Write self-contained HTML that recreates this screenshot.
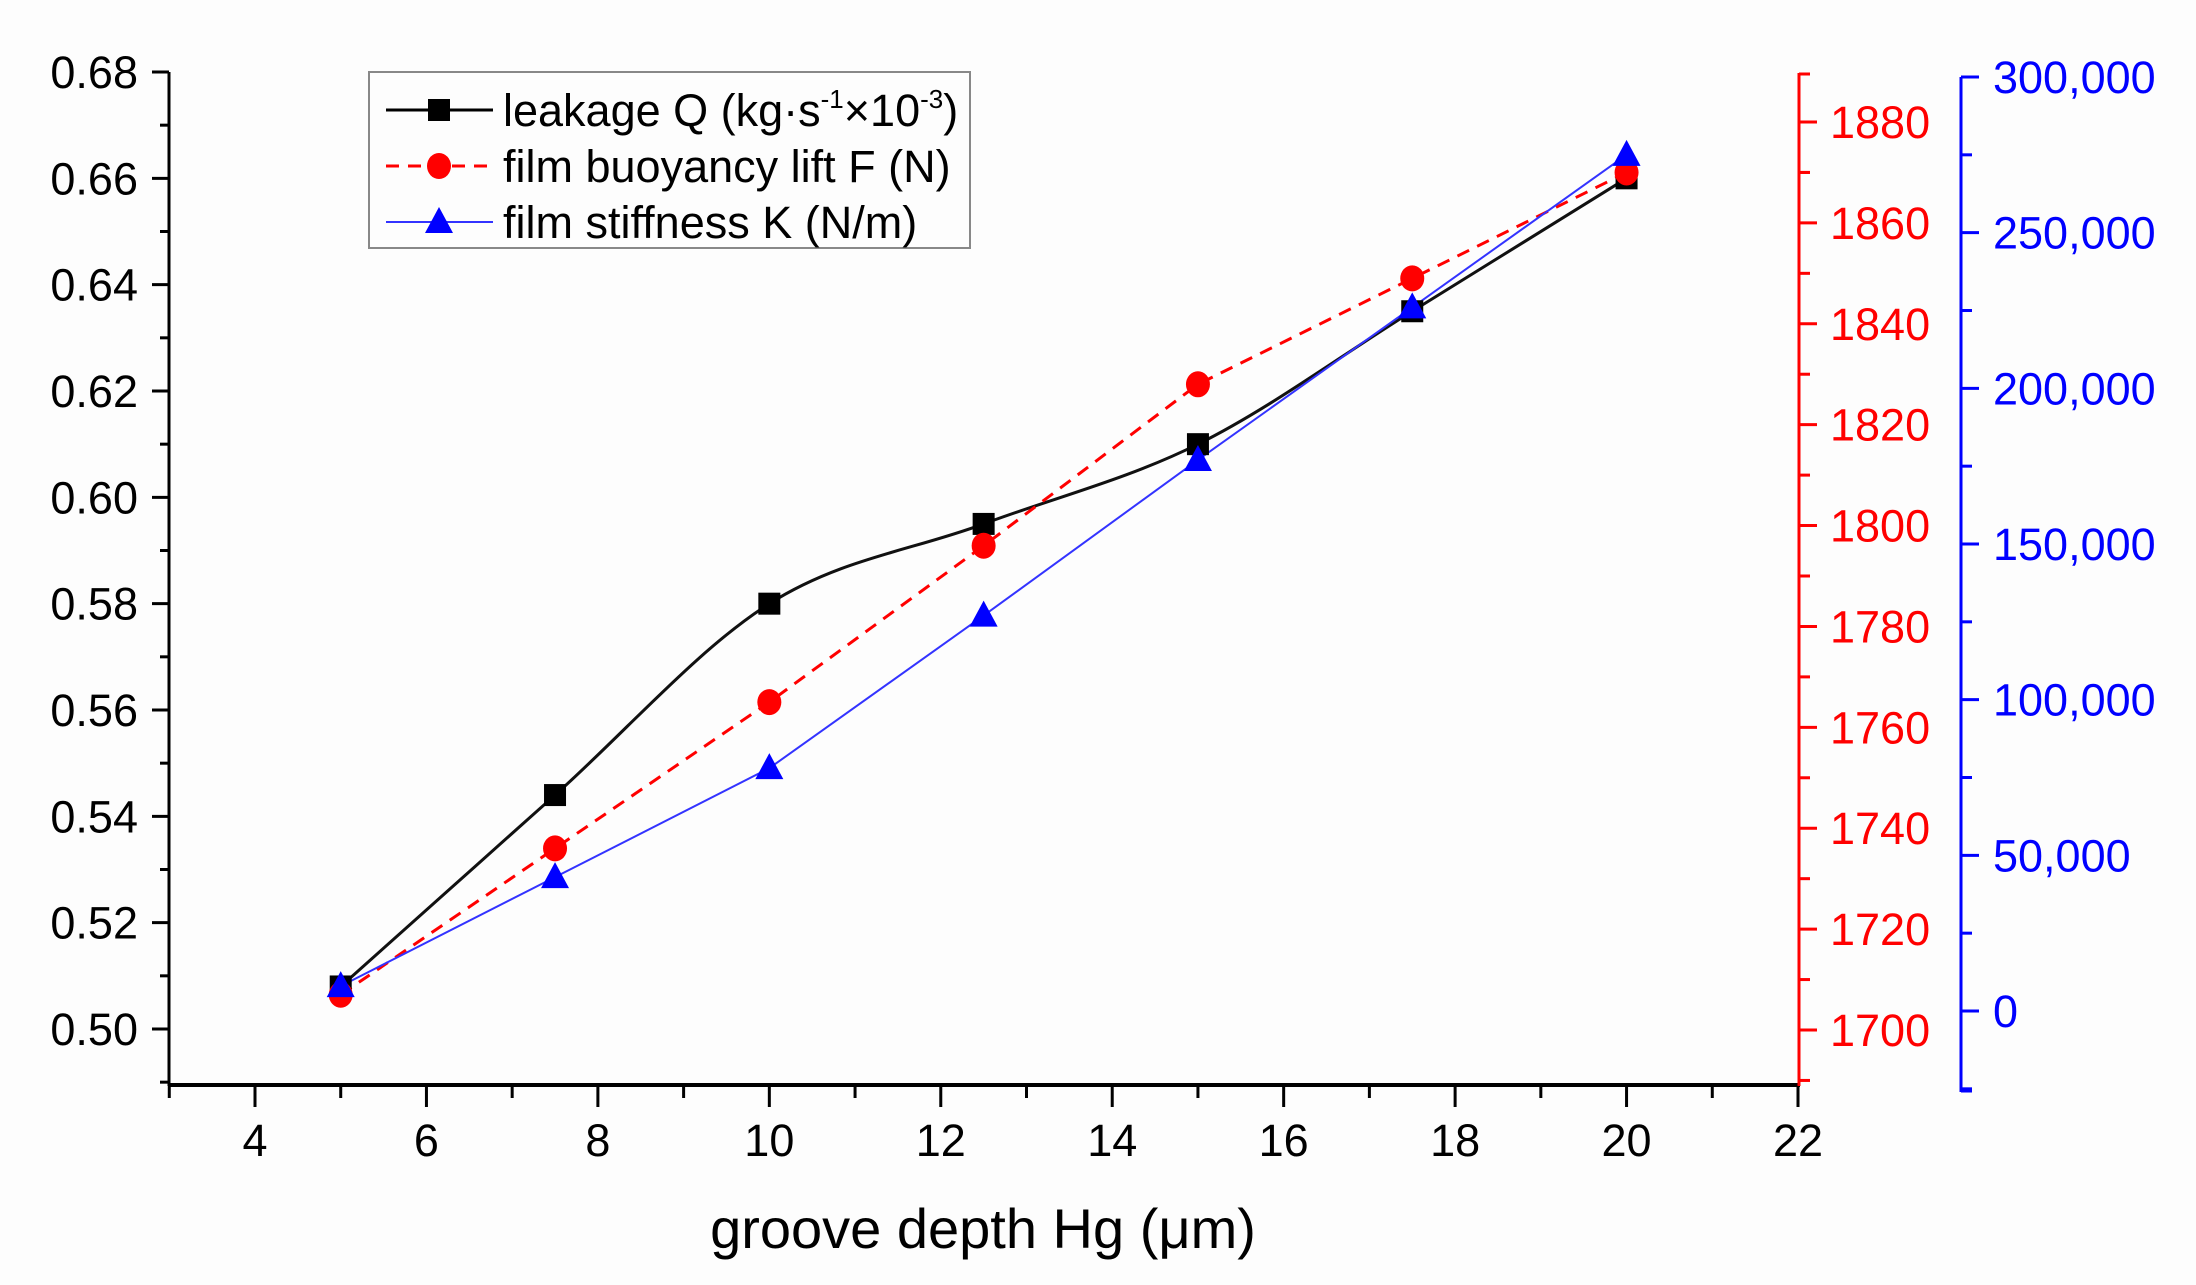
<!DOCTYPE html>
<html><head><meta charset="utf-8"><style>
html,body{margin:0;padding:0;background:#fdfdfd;}
svg{display:block;font-family:"Liberation Sans",Arial,sans-serif;}
</style></head><body>
<svg id="chart" width="2196" height="1285" viewBox="0 0 2196 1285" xmlns="http://www.w3.org/2000/svg">
<rect x="0" y="0" width="2196" height="1285" fill="#fdfdfd"/>
<g id="axes"></g>
<g id="series"></g>
<g id="legend"></g>
</svg>
<script>
const xCats = [5, 7.5, 10, 12.5, 15, 17.5, 20];
const leakageQ = [0.508, 0.544, 0.580, 0.595, 0.610, 0.635, 0.660];
const liftF = [1707, 1736, 1765, 1796, 1828, 1849, 1870];
const stiffK = [8000, 43000, 78000, 127000, 177000, 226000, 275000];
const xTicks = [4, 6, 8, 10, 12, 14, 16, 18, 20, 22];
const qTicks = [0.50, 0.52, 0.54, 0.56, 0.58, 0.60, 0.62, 0.64, 0.66, 0.68];
const fTicks = [1700, 1720, 1740, 1760, 1780, 1800, 1820, 1840, 1860, 1880];
const kTicks = [0, 50000, 100000, 150000, 200000, 250000, 300000];

const NS = "http://www.w3.org/2000/svg";
function el(tag, attrs, parent, text) {
  const e = document.createElementNS(NS, tag);
  for (const k in attrs) e.setAttribute(k, attrs[k]);
  if (text !== undefined) e.textContent = text;
  parent.appendChild(e);
  return e;
}
const X = v => 255 + (v - 4) * (1798 - 255) / 18;
const YQ = v => 1029 - (v - 0.50) * (1029 - 72) / 0.18;
const YF = v => 1030 - (v - 1700) * (1030 - 122) / 180;
const YK = v => 1011 - v * (1011 - 77) / 300000;

const axes = document.getElementById('axes');
const FS = 45;
// left axis
let a = el('line', {x1:169, y1:72, x2:169, y2:1086, stroke:'#000', 'stroke-width':3}, axes);


for (let i = 0; i < qTicks.length; i++) {
  const v = qTicks[i], y = YQ(v);
  el('line', {x1:152, y1:y, x2:169, y2:y, stroke:'#000', 'stroke-width':3}, axes);
  const t = el('text', {x:138, y:y + 16, 'text-anchor':'end', 'font-size':FS, fill:'#000'}, axes, v.toFixed(2));
  
  
  if (i < qTicks.length - 1) {
    const ym = YQ(v + 0.01);
    el('line', {x1:160, y1:ym, x2:169, y2:ym, stroke:'#000', 'stroke-width':3}, axes);
  }
}
el('line', {x1:160, y1:YQ(0.49), x2:169, y2:YQ(0.49), stroke:'#000', 'stroke-width':3}, axes);
// x axis
a = el('line', {x1:168, y1:1085, x2:1800, y2:1085, stroke:'#000', 'stroke-width':4}, axes);


for (let v = 3; v <= 22; v++) {
  const major = xTicks.includes(v);
  el('line', {x1:X(v), y1:1085, x2:X(v), y2:1085 + (major ? 22 : 13), stroke:'#000', 'stroke-width':3}, axes);
}
for (const v of xTicks) {
  const t = el('text', {x:X(v), y:1156, 'text-anchor':'middle', 'font-size':FS, fill:'#000'}, axes, String(v));
  
  
}
let tt = el('text', {x:983, y:1248, 'text-anchor':'middle', 'font-size':56, fill:'#000'}, axes, 'groove depth Hg (μm)');


// red axis
a = el('line', {x1:1799, y1:73, x2:1799, y2:1086, stroke:'#ff0000', 'stroke-width':3}, axes);


el('line', {x1:1799, y1:74, x2:1810, y2:74, stroke:'#ff0000', 'stroke-width':3}, axes);
for (let i = 0; i < fTicks.length; i++) {
  const v = fTicks[i], y = YF(v);
  el('line', {x1:1799, y1:y, x2:1817, y2:y, stroke:'#ff0000', 'stroke-width':3}, axes);
  el('line', {x1:1799, y1:YF(v - 10), x2:1810, y2:YF(v - 10), stroke:'#ff0000', 'stroke-width':3}, axes);
  const t = el('text', {x:1830, y:y + 16, 'font-size':FS, fill:'#ff0000'}, axes, String(v));
  
  
}
el('line', {x1:1799, y1:YF(1870), x2:1810, y2:YF(1870), stroke:'#ff0000', 'stroke-width':3}, axes);
// blue axis
a = el('line', {x1:1961, y1:77, x2:1961, y2:1092, stroke:'#0000ff', 'stroke-width':3}, axes);


for (let i = 0; i < kTicks.length; i++) {
  const v = kTicks[i], y = YK(v);
  el('line', {x1:1961, y1:y, x2:1979, y2:y, stroke:'#0000ff', 'stroke-width':3}, axes);
  el('line', {x1:1961, y1:YK(v - 25000), x2:1972, y2:YK(v - 25000), stroke:'#0000ff', 'stroke-width':3}, axes);
  const t = el('text', {x:1993, y:y + 16, 'font-size':FS, fill:'#0000ff'}, axes, v.toLocaleString('en-US'));
  
  
}
el('line', {x1:1961, y1:1091, x2:1972, y2:1091, stroke:'#0000ff', 'stroke-width':3}, axes);

// series
const ser = document.getElementById('series');
function spline(pts) {
  let d = 'M' + pts[0][0] + ',' + pts[0][1];
  for (let i = 0; i < pts.length - 1; i++) {
    const p0 = pts[Math.max(0, i - 1)], p1 = pts[i], p2 = pts[i + 1], p3 = pts[Math.min(pts.length - 1, i + 2)];
    const c1 = [p1[0] + (p2[0] - p0[0]) / 6, p1[1] + (p2[1] - p0[1]) / 6];
    const c2 = [p2[0] - (p3[0] - p1[0]) / 6, p2[1] - (p3[1] - p1[1]) / 6];
    d += ' C' + c1 + ' ' + c2 + ' ' + p2;
  }
  return d;
}
const qPts = xCats.map((x, i) => [X(x), YQ(leakageQ[i])]);
const fPts = xCats.map((x, i) => [X(x), YF(liftF[i])]);
const kPts = xCats.map((x, i) => [X(x), YK(stiffK[i])]);
let p = el('path', {d:spline(qPts), fill:'none', stroke:'#111', 'stroke-width':3}, ser);


p = el('polyline', {points:fPts.map(q => q.join(',')).join(' '), fill:'none', stroke:'#ff0000', 'stroke-width':3, 'stroke-dasharray':'13,9'}, ser);


p = el('polyline', {points:kPts.map(q => q.join(',')).join(' '), fill:'none', stroke:'#3333ff', 'stroke-width':2}, ser);


function square(x, y, g) { return el('rect', {x:x - 11, y:y - 11, width:22, height:22, fill:'#000'}, g); }
function circle(x, y, g) { return el('ellipse', {cx:x, cy:y, rx:12, ry:13, fill:'#ff0000'}, g); }
function tri(x, y, g) { return el('polygon', {points:(x) + ',' + (y - 15) + ' ' + (x - 14) + ',' + (y + 11) + ' ' + (x + 14) + ',' + (y + 11), fill:'#0000ff'}, g); }
qPts.forEach(q => { const m = square(q[0], q[1], ser);
  
   });
fPts.forEach(q => { const m = circle(q[0], q[1], ser);
  
   });
kPts.forEach(q => { const m = tri(q[0], q[1], ser);
  
   });

// legend
const lg = document.getElementById('legend');
el('rect', {x:369, y:72, width:601, height:176, fill:'#fdfdfd', stroke:'#888', 'stroke-width':2}, lg);
const rows = [
  {y:110, name:'legend-leakage', label:'leakage Q (kg·s', sup1:'-1', mid:'×10', sup2:'-3', end:')'},
  {y:166, name:'legend-lift', label:'film buoyancy lift F (N)'},
  {y:222, name:'legend-stiffness', label:'film stiffness K (N/m)'}
];
el('line', {x1:386, y1:110, x2:493, y2:110, stroke:'#000', 'stroke-width':3}, lg);
square(439, 110, lg);
el('line', {x1:386, y1:166, x2:493, y2:166, stroke:'#ff0000', 'stroke-width':3, 'stroke-dasharray':'13,9'}, lg);
circle(439, 166, lg);
el('line', {x1:386, y1:222, x2:493, y2:222, stroke:'#3333ff', 'stroke-width':2}, lg);
tri(439, 222, lg);
for (const r of rows) {
  const t = el('text', {x:503, y:r.y + 16, 'font-size':45, fill:'#000'}, lg);
  
  
  if (r.sup1) {
    el('tspan', {}, t, r.label);
    el('tspan', {dy:-18, 'font-size':26}, t, r.sup1);
    el('tspan', {dy:18}, t, r.mid);
    el('tspan', {dy:-18, 'font-size':26}, t, r.sup2);
    el('tspan', {dy:18}, t, r.end);
  } else {
    t.textContent = r.label;
  }
}
</script>
</body></html>
